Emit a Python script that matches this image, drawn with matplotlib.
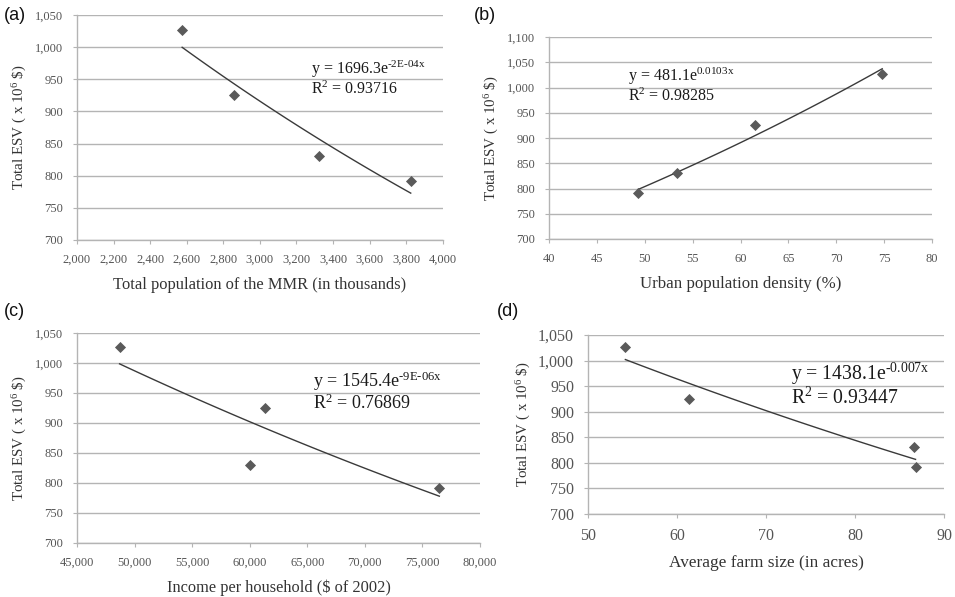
import numpy as np
import matplotlib

matplotlib.use("Agg")
import matplotlib.pyplot as plt

plt.rcParams["font.family"] = ["Liberation Serif", "DejaVu Serif"]
plt.rcParams["mathtext.fontset"] = "custom"
plt.rcParams["mathtext.rm"] = "Liberation Serif"
plt.rcParams["mathtext.it"] = "Liberation Serif"

# total ESV (x10^6 $) for the four observation years
esv = [1027, 925, 830, 791]

pop_mmr = [2575, 2861, 3326, 3825]          # (a) thousands
urban_density = [74.8, 61.5, 53.4, 49.3]    # (b) %
income = [48700, 61370, 60070, 76470]       # (c) $ of 2002
farm_size = [54.2, 61.4, 86.6, 86.8]        # (d) acres

eq_a = ("y = 1696.3e$^{\\text{-2E-04x}}$", "R$^2$ = 0.93716")
eq_b = ("y = 481.1e$^{\\text{0.0103x}}$", "R$^2$ = 0.98285")
eq_c = ("y = 1545.4e$^{\\text{-9E-06x}}$", "R$^2$ = 0.76869")
eq_d = ("y = 1438.1e$^{\\text{-0.007x}}$", "R$^2$ = 0.93447")

GRID = "#b4b4b4"
TICK = "#555555"
LABEL = "#333333"


def comma(v, _pos=None):
    return f"{int(v):,}"


def panel(fig, rect, x, xlim, xstep, ylim, xlabel, eq, eq_pos, eq_size,
          tick_size, label_size, xcomma):
    ax = fig.add_axes(rect)
    x = np.asarray(x, dtype=float)
    y = np.asarray(esv, dtype=float)
    # excel-style exponential trendline (least squares in log space)
    b, ln_a = np.polyfit(x, np.log(y), 1)
    xs = np.linspace(x.min(), x.max(), 100)
    ax.plot(xs, np.exp(ln_a) * np.exp(b * xs), color="#3a3a3a", lw=1.0, zorder=3)
    ax.scatter(x, y, marker="D", s=32, color="#5a5a5a", zorder=4, linewidths=0)

    ax.set_xlim(*xlim)
    ax.set_ylim(*ylim)
    ax.set_xticks(np.arange(xlim[0], xlim[1] + xstep / 2, xstep))
    ax.set_yticks(np.arange(ylim[0], ylim[1] + 1, 50))
    ax.yaxis.set_major_formatter(comma)
    if xcomma:
        ax.xaxis.set_major_formatter(comma)
    ax.grid(axis="y", color=GRID, lw=1.0)
    ax.set_axisbelow(True)
    for s in ("top", "right"):
        ax.spines[s].set_visible(False)
    for s in ("left", "bottom"):
        ax.spines[s].set_color(GRID)
        ax.spines[s].set_linewidth(1.0)
    ax.tick_params(axis="both", colors=GRID, labelcolor=TICK, labelsize=tick_size,
                   length=3)
    ax.tick_params(axis="x", pad=7)
    ax.tick_params(axis="y", pad=7)
    ax.set_xlabel(xlabel, fontsize=label_size, color=LABEL, labelpad=8)
    ax.set_ylabel("Total ESV ( x 10$^6$ \\$)", fontsize=10.8, color=LABEL,
                  labelpad=4)
    ex, ey1, ey2 = eq_pos
    ax.text(ex, ey1, eq[0], fontsize=eq_size, color="#1a1a1a", va="center", ha="left")
    ax.text(ex, ey2, eq[1], fontsize=eq_size, color="#1a1a1a", va="center", ha="left")
    return ax


fig = plt.figure(figsize=(9.55, 5.97), dpi=100)

panel(fig, [0.0806, 0.598, 0.383, 0.377], pop_mmr, (2000, 4000), 200, (700, 1050),
      "Total population of the MMR (in thousands)", eq_a, (3282, 965, 935),
      11.5, 9, 11.9, True)
panel(fig, [0.5749, 0.5997, 0.401, 0.338], urban_density, (40, 80), 5, (700, 1100),
      "Urban population density (%)", eq_b, (48.2, 1022, 983),
      11.5, 9, 12.2, False)
panel(fig, [0.0806, 0.0905, 0.422, 0.352], income, (45000, 80000), 5000, (700, 1050),
      "Income per household ($ of 2002)", eq_c, (65540, 969, 932),
      13, 9, 11.8, True)
panel(fig, [0.6157, 0.139, 0.3728, 0.30], farm_size, (50, 90), 10, (700, 1050),
      "Average farm size (in acres)", eq_d, (72.8, 973, 927),
      14.2, 11.5, 12.4, False)

for lbl, px, py in (("(a)", 4, 16), ("(b)", 474, 16), ("(c)", 4, 311), ("(d)", 497, 311)):
    fig.text(px / 955, 1 - py / 597, lbl, fontsize=13, family="Liberation Sans",
             color="#111111", va="center", ha="left")

fig.savefig("out.png", dpi=100)
